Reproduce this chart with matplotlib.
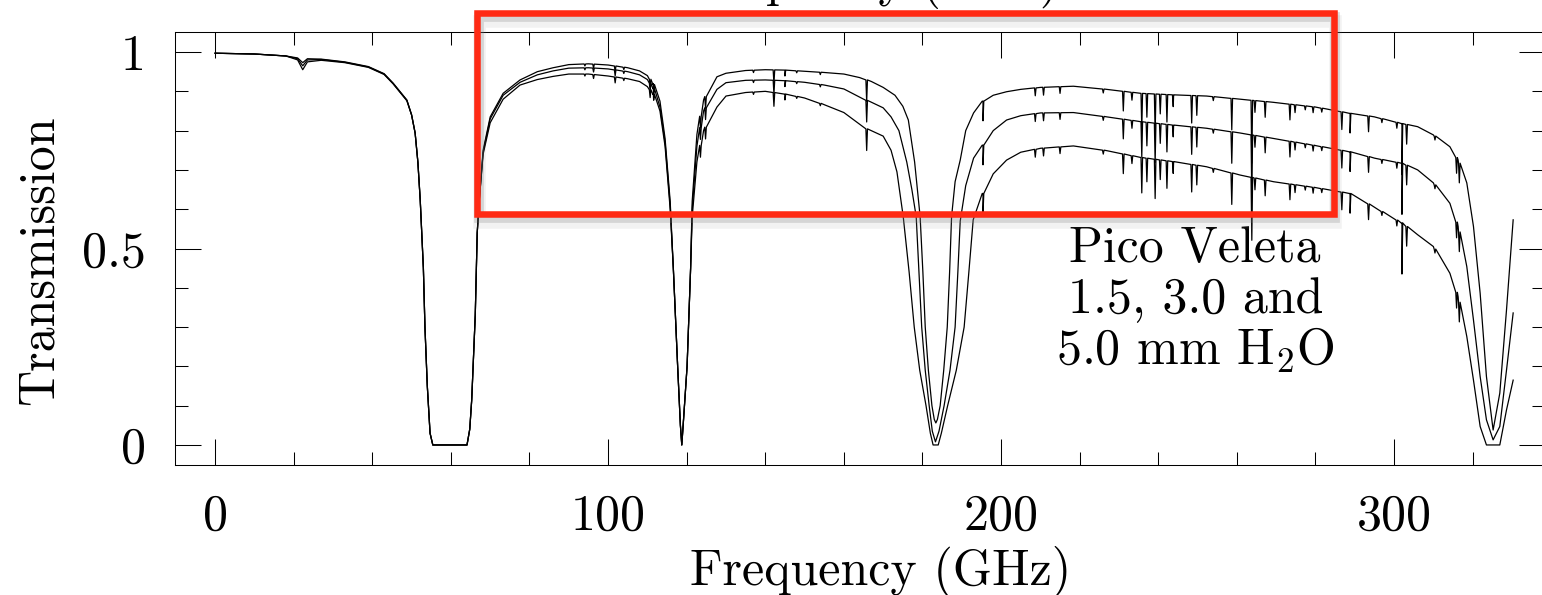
import numpy as np
import matplotlib
matplotlib.use("Agg")
import matplotlib.pyplot as plt
from matplotlib.ticker import MultipleLocator, FixedLocator, FixedFormatter
from matplotlib.patches import Rectangle
import matplotlib.patheffects as pe

plt.rcParams["font.family"] = "cmr10"
plt.rcParams["mathtext.fontset"] = "cm"
plt.rcParams["axes.formatter.use_mathtext"] = True

# transmission, frequency in GHz
freq_15 = [0, 10, 18, 21, 22.3, 23.5, 27, 33, 39, 43, 45.3, 47, 48.8, 50, 50.9, 51.6, 52.2, 53, 53.4, 54,
           54.7, 55.4, 64.1, 64.8, 65.3, 66.2, 66.7, 67.2, 68.2, 70, 73.3, 77.6, 82, 86, 90, 95, 100, 105,
           108, 110, 111.5, 113.2, 114.5, 115.8, 116.6, 117.7, 118.4, 118.75, 119.1, 120.1, 121, 121.4,
           122.6, 124.3, 127.7, 130, 135, 140, 145, 150, 155, 160, 164, 167, 170, 173, 175, 176.4, 178,
           179.4, 180.1, 180.7, 181.5, 182.4, 183.0, 183.4, 183.8, 184.5, 185.4, 186.3, 186.9, 187.4, 188.3,
           189.6, 191, 193, 195.4, 198, 201.4, 205, 210,
           218.4, 226.9, 235.4, 243.9, 252.3, 260.8, 269.3, 280, 288.8, 295, 302, 306, 310, 314.2, 316.3,
           318.5, 320.2, 321.9, 323.5, 325.2, 326.9, 328.6, 330.3]
trans_15 = [0.997, 0.995, 0.99, 0.985, 0.973, 0.983, 0.982, 0.975, 0.963, 0.945, 0.921, 0.90, 0.878, 0.84,
            0.794, 0.72, 0.623, 0.45, 0.30, 0.15, 0.03, 0.0, 0.0, 0.04, 0.115, 0.33, 0.54, 0.62, 0.75,
            0.835, 0.895, 0.929, 0.95, 0.96, 0.968, 0.97, 0.967, 0.96, 0.952, 0.94, 0.92, 0.875, 0.78,
            0.62, 0.45, 0.2, 0.05, 0.0, 0.05, 0.2, 0.45, 0.62, 0.79, 0.878, 0.937, 0.946, 0.953, 0.955,
            0.954, 0.951, 0.948, 0.944, 0.935, 0.925, 0.91, 0.89, 0.862, 0.827, 0.72,
            0.581, 0.44, 0.30, 0.19, 0.10, 0.065, 0.056, 0.065, 0.10, 0.19, 0.30, 0.44, 0.581, 0.67,
            0.725, 0.80, 0.845, 0.875, 0.89, 0.899, 0.905, 0.91, 0.913, 0.905,
            0.895, 0.891, 0.888, 0.88, 0.872, 0.86, 0.844, 0.835, 0.818, 0.81, 0.789, 0.759, 0.725, 0.667,
            0.556, 0.386, 0.174, 0.038, 0.132, 0.343, 0.573]

freq_30 = [0, 10, 18, 21, 22.3, 23.5, 27, 33, 39, 43, 45.3, 47, 48.8, 50, 50.9, 51.6, 52.2, 53, 53.4, 54,
           54.7, 55.4, 64.1, 64.8, 65.3, 66.2, 66.7, 67.2, 68.2, 70, 73.3, 77.6, 82, 86, 90, 95, 100, 105,
           108, 110, 111.5, 113.2, 114.5, 115.8, 116.6, 117.7, 118.4, 118.75, 119.1, 120.1, 121, 121.4,
           122.6, 124.3, 127.7, 130, 135, 140, 145, 150, 155, 160, 166, 170, 172, 174, 176, 177.3, 178.4,
           179.1, 179.8, 180.7, 181.7, 182.5, 183.3, 184.2, 185.5, 187.0, 188.3, 189.0, 189.6,
           191, 193, 195.4, 198, 201.4, 205, 210, 218.4, 226.9, 235.4,
           243.9, 252.3, 260.8, 269.3, 280, 288.8, 295, 302, 306, 310, 314.2, 316.3, 318.5, 320.2, 321.9,
           323.5, 325.2, 326.9, 328.6, 330.3]
trans_30 = [0.997, 0.995, 0.99, 0.983, 0.965, 0.98, 0.981, 0.974, 0.962, 0.944, 0.92, 0.899, 0.877, 0.84,
            0.794, 0.72, 0.623, 0.45, 0.30, 0.15, 0.03, 0.0, 0.0, 0.04, 0.115, 0.33, 0.54, 0.62, 0.745,
            0.83, 0.89, 0.923, 0.942, 0.952, 0.959, 0.96, 0.957, 0.95, 0.942, 0.93, 0.91, 0.86, 0.77,
            0.61, 0.45, 0.2, 0.05, 0.0, 0.05, 0.2, 0.45, 0.60, 0.76, 0.85, 0.905, 0.922, 0.928, 0.929,
            0.927, 0.923, 0.916, 0.906, 0.876, 0.858, 0.835, 0.80, 0.72, 0.65, 0.581,
            0.44, 0.30, 0.19, 0.10, 0.035, 0.008, 0.035, 0.10, 0.19, 0.30, 0.44, 0.57,
            0.66, 0.73, 0.763, 0.80, 0.827, 0.838, 0.845, 0.846, 0.835, 0.823, 0.814, 0.806,
            0.794, 0.78, 0.762, 0.746, 0.73, 0.717, 0.70, 0.667, 0.615, 0.556, 0.454, 0.318, 0.174, 0.064,
            0.013, 0.047, 0.19, 0.336]

freq_50 = [0, 10, 18, 21, 22.3, 23.5, 27, 33, 39, 43, 45.3, 47, 48.8, 50, 50.9, 51.6, 52.2, 53, 53.4, 54,
           54.7, 55.4, 64.1, 64.8, 65.3, 66.2, 66.7, 67.2, 68.2, 70, 73.3, 77.6, 82, 86, 90, 95, 100, 105,
           108, 110, 111.5, 113.2, 114.5, 115.8, 116.6, 117.7, 118.4, 118.75, 119.1, 120.1, 121, 121.4,
           122.6, 124.3, 127.7, 130, 135, 140, 145, 150, 155, 160, 166, 170, 172, 173.5, 175.1, 176.6,
           177.9, 179.3, 180.9, 182, 182.7, 184.0, 184.8, 186.4, 188.6, 190.6, 191.8, 192.9,
           195.4, 198, 201.4, 205, 210, 218.4, 226.9, 235.4,
           243.9, 252.3, 260.8, 269.3, 280, 288.8, 295, 302, 306, 310, 314.2, 316.3, 318.5, 320.2, 321.9,
           323.5, 326.9, 328.6, 330.3]
trans_50 = [0.997, 0.995, 0.99, 0.98, 0.955, 0.975, 0.979, 0.973, 0.961, 0.943, 0.919, 0.898, 0.876, 0.84,
            0.794, 0.72, 0.623, 0.45, 0.30, 0.15, 0.03, 0.0, 0.0, 0.04, 0.115, 0.33, 0.54, 0.62, 0.74,
            0.82, 0.88, 0.916, 0.93, 0.938, 0.944, 0.944, 0.939, 0.932, 0.925, 0.912, 0.895, 0.85, 0.76,
            0.60, 0.45, 0.2, 0.05, 0.0, 0.05, 0.2, 0.45, 0.58, 0.72, 0.80, 0.86, 0.888, 0.897, 0.90,
            0.893, 0.883, 0.866, 0.846, 0.803, 0.786, 0.75, 0.695, 0.581, 0.44,
            0.30, 0.19, 0.10, 0.03, 0.0, 0.0, 0.03, 0.10, 0.19, 0.30, 0.44, 0.573,
            0.64, 0.69, 0.725, 0.745, 0.755, 0.761, 0.749, 0.732, 0.721, 0.708, 0.687,
            0.67, 0.655, 0.64, 0.605, 0.565, 0.535, 0.505, 0.437, 0.377, 0.276, 0.165, 0.047, 0.0, 0.0,
            0.089, 0.165]

# narrow absorption lines: position (GHz) and depth
line_ghz = [94.1, 96.3, 101.8, 104.0, 110.7, 111.6, 123.5, 124.8, 137.0, 142.2, 145.0, 148.0, 154.0,
            165.8, 195.4, 208.7, 210.8, 215.0, 226.0, 231.1, 233.3, 235.8, 237.1, 239.2, 240.5, 242.2,
            243.8, 248.5, 249.8, 254.0, 258.7, 263.8, 264.6, 267.2, 273.5, 274.8, 277.4, 279.4, 281.6,
            286.7, 288.8, 293.5, 296.9, 300.7, 302.0, 303.2, 310.4, 315.9, 316.6]
line_depth = [0.005, 0.01, 0.015, 0.006, 0.02, 0.015, 0.03, 0.03, 0.006, 0.035, 0.015, 0.005, 0.006,
              0.055, 0.05, 0.02, 0.02, 0.017, 0.01, 0.05, 0.02, 0.09, 0.06, 0.1, 0.05, 0.07,
              0.03, 0.07, 0.05, 0.01, 0.08, 0.16, 0.03, 0.04, 0.04, 0.02, 0.01, 0.015, 0.01,
              0.045, 0.05, 0.04, 0.01, 0.015, 0.13, 0.05, 0.01, 0.04, 0.05]

x_ticks = [0, 100, 200, 300]
y_ticks = [0, 0.5, 1]
y_tick_labels = ["0", "0.5", "1"]
note_lines = ["Pico Veleta", "1.5, 3.0 and", r"5.0 mm H$_2$O"]


def add_lines(freq, trans):
    # put the narrow dips onto a curve
    freq = np.asarray(freq, float)
    trans = np.asarray(trans, float)
    lf = np.asarray(line_ghz, float)
    base = np.interp(lf, freq, trans)
    low = np.clip(base - np.asarray(line_depth), 0, None)
    fx = np.concatenate([freq, lf - 0.2, lf, lf + 0.2])
    ty = np.concatenate([trans, base, low, base])
    order = np.argsort(fx, kind="stable")
    return fx[order], ty[order]


W, H = 1542, 595
FS = 36
fig = plt.figure(figsize=(W / 100, H / 100), dpi=100)
ax = fig.add_axes([175 / W, 130 / H, 1370 / W, 433 / H])

for f, t in [(freq_15, trans_15), (freq_30, trans_30), (freq_50, trans_50)]:
    fx, ty = add_lines(f, t)
    ax.plot(fx, ty, color="black", lw=0.9)

ax.set_xlim(-10.2, 338.4)
ax.set_ylim(-0.051, 1.051)
ax.xaxis.set_major_locator(FixedLocator(x_ticks))
ax.xaxis.set_major_formatter(FixedFormatter([str(v) for v in x_ticks]))
ax.xaxis.set_minor_locator(MultipleLocator(20))
ax.yaxis.set_major_locator(FixedLocator(y_ticks))
ax.yaxis.set_major_formatter(FixedFormatter(y_tick_labels))
ax.yaxis.set_minor_locator(MultipleLocator(0.1))
ax.tick_params(which="both", direction="in", top=True, right=True, width=0.75, labelsize=FS)
ax.tick_params(which="major", length=19)
ax.tick_params(which="minor", length=9.4)
ax.tick_params(axis="x", pad=21)
ax.tick_params(axis="y", pad=21)
for s in ax.spines.values():
    s.set_linewidth(0.75)

fig.text(881 / W, 10 / H, "Frequency (GHz)", ha="center", va="baseline", size=FS)
fig.text(40 / W, 1 - 260 / H, "Transmission", rotation=90, ha="center", va="center", size=FS)
# label of the panel above, cut by the frame
fig.text(869 / W, 1 + 4 / H, "Frequency (GHz)", ha="center", va="baseline", size=FS)

for i, s in enumerate(note_lines):
    ax.text(249.4, 0.466 - 0.131 * i, s, ha="center", va="baseline", size=FS)

box = Rectangle((66.7, 0.588), 284.7 - 66.7, 1.099 - 0.588, fill=False, ec="#ff2a14", lw=4.7,
                clip_on=False, zorder=5,
                path_effects=[pe.SimpleLineShadow(offset=(1, -3), shadow_color="gray", alpha=0.25, linewidth=7),
                              pe.SimpleLineShadow(offset=(1, -6), shadow_color="gray", alpha=0.1, linewidth=9),
                              pe.Normal()])
ax.add_patch(box)

fig.savefig("out.png", dpi=100)
